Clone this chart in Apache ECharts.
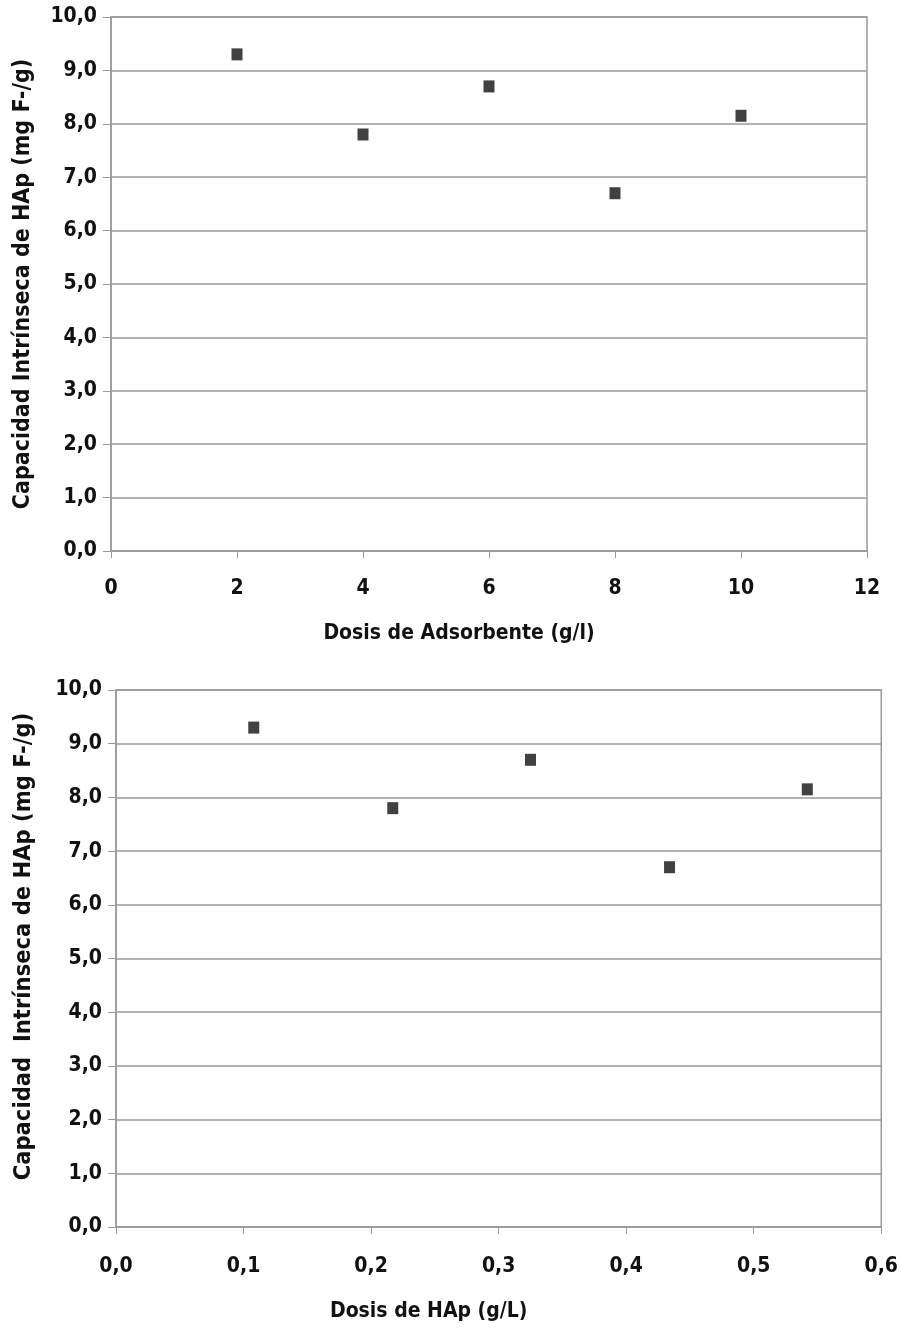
<!DOCTYPE html>
<html>
<head>
<meta charset="utf-8">
<script src="https://cdn.jsdelivr.net/npm/echarts@6/dist/echarts.min.js"></script>
<style>
html,body{margin:0;padding:0;background:#fff;}
#c{width:901px;height:1330px;}
</style>
</head>
<body>
<div id="c"></div>
<script>
// Data
const doseAdsorbent = [2, 4, 6, 8, 10];           // g/l
const doseHAp = [0.108, 0.217, 0.325, 0.434, 0.542]; // g/L
const capacity = [9.3, 7.8, 8.7, 6.7, 8.15];     // mg F-/g
const yTitleTop = 'Capacidad Intrínseca de HAp (mg F-/g)';
const yTitleBottom = 'Capacidad  Intrínseca de HAp (mg F-/g)';
const xTitleTop = 'Dosis de Adsorbente (g/l)';
const xTitleBottom = 'Dosis de HAp (g/L)';

const FONT = "'Liberation Sans Narrow','DejaVu Sans Condensed','Liberation Sans',sans-serif";
const GRAY = '#9a9a9a';
const comma1 = v => v.toFixed(1).replace('.', ',');

function xAxis(idx, max, interval, fmt, name, margin, nameGap, namePad) {
  return {
    type: 'value', gridIndex: idx, min: 0, max: max, interval: interval,
    name: name, nameLocation: 'middle', nameGap: nameGap,
    nameTextStyle: {fontFamily: FONT, fontWeight: 'bold', fontSize: 21, color: '#111', padding: namePad},
    axisLine: {show: true, lineStyle: {color: GRAY, width: 1.5}},
    axisTick: {show: true, length: 7, lineStyle: {color: GRAY}},
    axisLabel: {formatter: fmt, margin: margin, fontFamily: FONT, fontWeight: 'bold', fontSize: 21, color: '#111'},
    splitLine: {show: false}
  };
}
function yAxis(idx, name, nameSize, namePad, nameGap) {
  return {
    type: 'value', gridIndex: idx, min: 0, max: 10, interval: 1,
    name: name, nameLocation: 'middle', nameGap: nameGap,
    nameTextStyle: {fontFamily: FONT, fontWeight: 'bold', fontSize: nameSize, color: '#111', padding: namePad},
    axisLine: {show: true, lineStyle: {color: GRAY, width: 1.5}},
    axisTick: {show: true, length: 8, lineStyle: {color: GRAY}},
    axisLabel: {formatter: v => comma1(v), margin: 14, fontFamily: FONT, fontWeight: 'bold', fontSize: 21, color: '#111'},
    splitLine: {show: true, lineStyle: {color: GRAY, width: 1.5}}
  };
}

const chart = echarts.init(document.getElementById('c'), null, {renderer: 'canvas'});
chart.setOption({
  backgroundColor: '#fff',
  animation: false,
  grid: [
    {left: 111, top: 17, width: 756, height: 534, show: true, borderColor: GRAY, borderWidth: 1.5, backgroundColor: 'transparent'},
    {left: 116, top: 690, width: 768, height: 537, show: true, borderColor: GRAY, borderWidth: 1.5, backgroundColor: 'transparent'}
  ],
  xAxis: [
    xAxis(0, 12, 2, v => String(v), xTitleTop, 27, 72, [0, 60, 0, 0]),
    xAxis(1, 0.6, 0.1, v => comma1(v), xTitleBottom, 29, 74, [0, 140, 0, 0])
  ],
  yAxis: [
    yAxis(0, yTitleTop, 23, [0, 0, 0, 0], 76),
    yAxis(1, yTitleBottom, 23.5, [0, 0, 0, 24], 80)
  ],
  series: [
    {type: 'scatter', xAxisIndex: 0, yAxisIndex: 0, symbol: 'rect', symbolSize: [11, 12],
     itemStyle: {color: '#111'}, data: doseAdsorbent.map((x, i) => [x, capacity[i]])},
    {type: 'scatter', xAxisIndex: 1, yAxisIndex: 1, symbol: 'rect', symbolSize: [11, 12],
     itemStyle: {color: '#111'}, data: doseHAp.map((x, i) => [x, capacity[i]])}
  ]
});
</script>
</body>
</html>
